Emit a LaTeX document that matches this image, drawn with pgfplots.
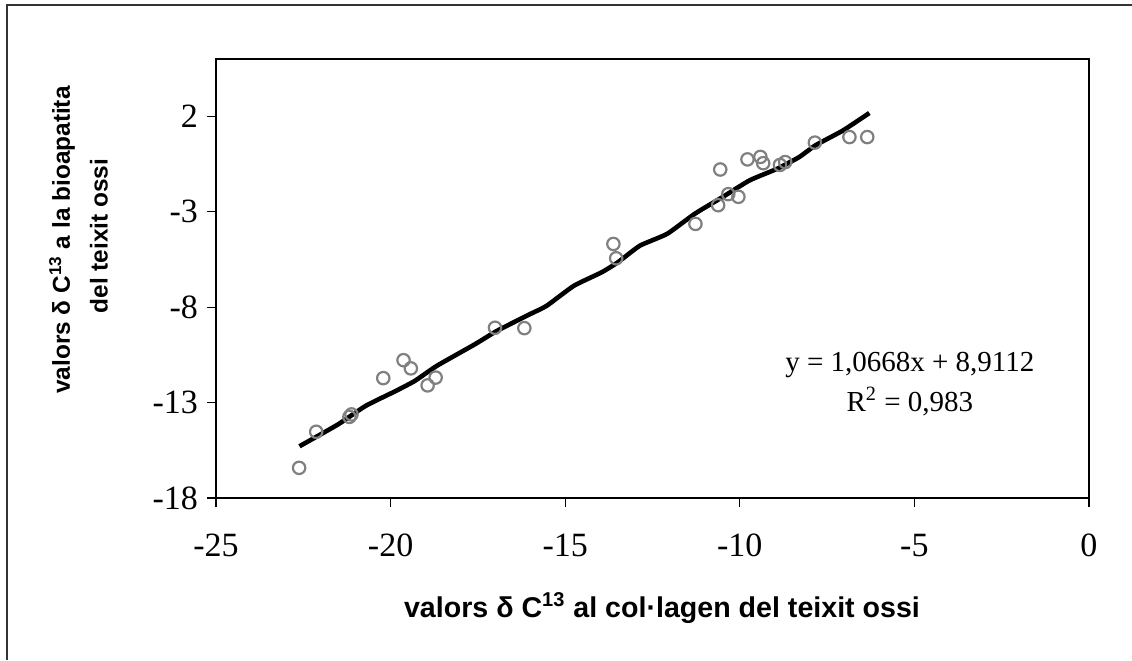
\documentclass[border=0pt]{standalone}
\usepackage{fontspec}
\setmainfont{Liberation Serif}
\setsansfont{Liberation Sans}
\usepackage{pgfplots}
\pgfplotsset{compat=1.18}
\begin{document}
\begin{tikzpicture}
\useasboundingbox (0,0) rectangle (566pt,330pt);
\draw[line width=0.8pt, black!80] (3.5pt,0) -- (3.5pt,327.5pt) -- (566pt,327.5pt);
\begin{axis}[at={(108pt,81pt)}, anchor=south west, width=436.5pt, height=219.5pt, scale only axis,
  xmin=-25, xmax=0, ymin=-18, ymax=5,
  xtick={-25,-20,...,0}, ytick={-18,-13,-8,-3,2},
  tick align=outside, xtick pos=left, ytick pos=left, major tick length=4.5pt,
  axis line style={line width=1.2pt},
  tick style={line width=0.6pt, black},
  ticklabel style={font=\fontsize{17}{20}\selectfont},
  xticklabel style={yshift=-10pt},
  yticklabel style={xshift=-1pt},
  /pgf/number format/assume math mode=true,
  clip=false]
\addplot[only marks, mark=o, mark size=3.1pt, mark options={gray, line width=1.1pt}] table {
x y
-22.62 -16.42
-22.13 -14.53
-21.18 -13.75
-21.12 -13.62
-20.21 -11.72
-19.63 -10.78
-19.42 -11.21
-18.94 -12.10
-18.71 -11.69
-17.01 -9.08
-16.17 -9.10
-13.62 -4.69
-13.54 -5.44
-11.27 -3.64
-10.62 -2.66
-10.56 -0.79
-10.33 -2.08
-10.04 -2.22
-9.78 -0.26
-9.41 -0.13
-9.33 -0.46
-8.85 -0.55
-8.70 -0.40
-7.85 0.62
-6.86 0.91
-6.35 0.91
};
\addplot[black, line width=2.3pt, smooth, tension=0.3] table {
x y
-22.61 -15.29
-21.51 -14.15
-20.72 -13.18
-19.86 -12.40
-19.31 -11.87
-18.68 -11.08
-17.58 -9.94
-16.95 -9.24
-16.01 -8.37
-15.53 -7.93
-14.75 -6.88
-13.96 -6.18
-13.49 -5.65
-12.86 -4.78
-12.08 -4.16
-11.29 -3.11
-10.50 -2.24
-9.72 -1.36
-8.93 -0.75
-8.30 -0.14
-7.83 0.48
-7.04 1.26
-6.29 2.17
};
\node[font=\fontsize{14.5}{17}\selectfont] at (axis cs:-5.13,-11.05) {y = 1,0668x + 8,9112};
\node[font=\fontsize{14.5}{17}\selectfont] at (axis cs:-5.13,-12.95) {R\textsuperscript{2} = 0,983};
\end{axis}
\node[font=\sffamily\bfseries\fontsize{14.3}{17}\selectfont] at (331pt,26pt) {valors δ C\textsuperscript{13} al col·lagen del teixit ossi};
\node[rotate=90, font=\sffamily\bfseries\fontsize{12.2}{15}\selectfont] at (31pt,210pt) {valors δ C\textsuperscript{13} a la bioapatita};
\node[rotate=90, font=\sffamily\bfseries\fontsize{12.2}{15}\selectfont] at (49.5pt,212pt) {del teixit ossi};
\end{tikzpicture}
\end{document}
